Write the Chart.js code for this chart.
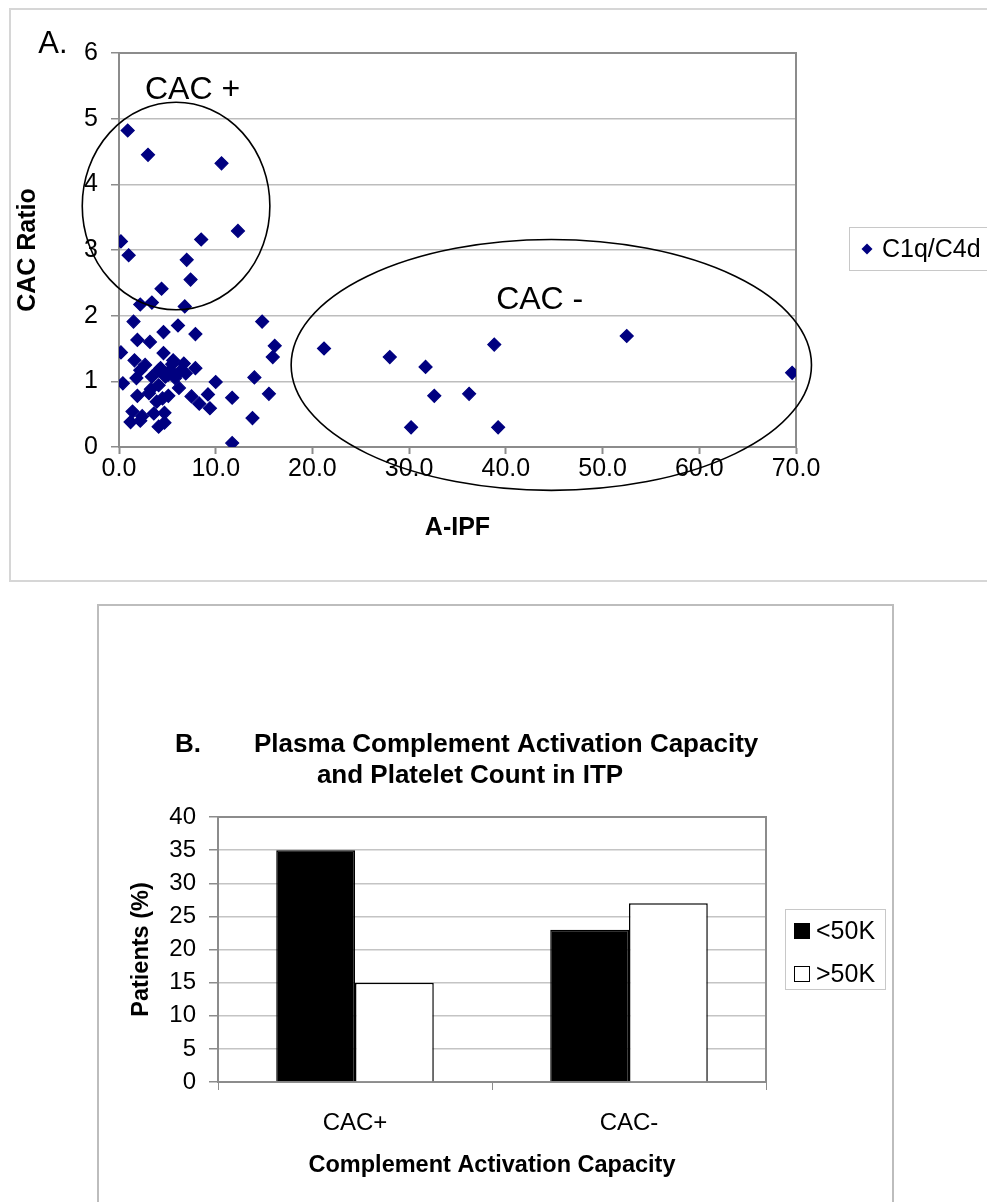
<!DOCTYPE html>
<html>
<head>
<meta charset="utf-8">
<title>CAC ratio and platelet count</title>
<script src="https://cdn.jsdelivr.net/npm/chart.js@4.4.1/dist/chart.umd.min.js"></script>
<style>
    body { margin: 0; background: #fff; }
    #page { position: relative; width: 987px; height: 1202px; overflow: hidden; }
    .frame { position: absolute; border: 2px solid #d6d6d6; }
    canvas { position: absolute; left: 0; }
</style>
</head>
<body>
<div id="page">
    <div class="frame" style="left:9px; top:8px; width:1000px; height:570px;"></div>
    <div class="frame" style="left:97px; top:604px; width:793px; height:620px; border-color:#bdbdbd;"></div>
    <canvas id="chartA" width="987" height="590" style="top:0"></canvas>
    <canvas id="chartB" width="987" height="602" style="top:600px"></canvas>
</div>
<script>
// Panel A: A-IPF vs CAC ratio (C1q/C4d)
const aIpf = [
    0.9, 3.0, 10.6, 12.3, 0.2, 8.5, 1.0, 7.0, 7.4, 4.4, 2.2, 3.4, 6.8,
    1.5, 14.8, 6.1, 4.6, 7.9, 1.9, 3.2, 16.1, 0.2, 15.9, 4.6, 1.6, 2.7,
    5.6, 6.7, 7.9, 4.1, 5.3, 6.3, 2.2, 1.8, 3.4, 4.8, 5.8, 0.4, 10.0,
    14.0, 4.1, 6.2, 3.3, 5.1, 4.3, 3.1, 1.9, 7.5, 5.1, 9.2, 11.7, 15.5,
    4.5, 3.9, 8.3, 9.4, 1.4, 2.4, 3.6, 4.7, 1.2, 2.2, 4.1, 4.7, 13.8,
    11.7, 6.9, 5.5,
    21.2, 28.0, 31.7, 38.8, 52.5, 69.6, 32.6, 36.2, 30.2, 39.2
];
const cacRatio = [
    4.82, 4.45, 4.32, 3.29, 3.13, 3.16, 2.92, 2.85, 2.55, 2.41, 2.17, 2.20, 2.14,
    1.91, 1.91, 1.85, 1.75, 1.72, 1.63, 1.60, 1.54, 1.44, 1.37, 1.43, 1.32, 1.25,
    1.32, 1.27, 1.20, 1.17, 1.17, 1.15, 1.17, 1.05, 1.07, 1.07, 1.05, 0.97, 0.99,
    1.06, 0.94, 0.90, 0.88, 1.10, 1.20, 0.82, 0.78, 0.77, 0.78, 0.80, 0.75, 0.81,
    0.74, 0.69, 0.66, 0.59, 0.54, 0.47, 0.51, 0.52, 0.38, 0.40, 0.31, 0.37, 0.44,
    0.06, 1.12, 1.26,
    1.50, 1.37, 1.22, 1.56, 1.69, 1.13, 0.78, 0.81, 0.30, 0.30
];

// Panel B: patients (%) by complement activation capacity
const cacGroups = ['CAC+', 'CAC-'];
const below50K = [35, 23];
const above50K = [15, 27];

// hand-drawn zones on panel A, in data units
const cacZones = [
    { label: 'CAC +', cx: 5.9, cy: 3.67, rx: 9.7, ry: 1.58, tx: 7.6, ty: 5.44 },
    { label: 'CAC -', cx: 44.7, cy: 1.25, rx: 26.9, ry: 1.91, tx: 43.5, ty: 2.24 }
];

const FONT = "'Liberation Sans', Arial, sans-serif";
Chart.defaults.font.family = FONT;
Chart.defaults.color = '#000';

const scatterPoints = aIpf.map((v, i) => ({ x: v, y: cacRatio[i] }));

const framePlugin = {
    id: 'plotFrame',
    beforeDatasetsDraw(chart) {
        const { ctx, chartArea: a } = chart;
        ctx.save();
        ctx.strokeStyle = '#8c8c8c';
        ctx.lineWidth = 2;
        ctx.beginPath();
        ctx.moveTo(a.left, a.top);
        ctx.lineTo(a.right, a.top);
        ctx.lineTo(a.right, a.bottom);
        ctx.stroke();
        ctx.restore();
    }
};

const zonePlugin = {
    id: 'cacZones',
    afterDatasetsDraw(chart) {
        const { ctx, scales: { x, y } } = chart;
        ctx.save();
        ctx.strokeStyle = '#000';
        ctx.lineWidth = 1.6;
        ctx.fillStyle = '#000';
        ctx.font = '32px ' + FONT;
        ctx.textAlign = 'center';
        ctx.textBaseline = 'middle';
        cacZones.forEach(z => {
            const cx = x.getPixelForValue(z.cx);
            const cy = y.getPixelForValue(z.cy);
            const rx = x.getPixelForValue(z.cx + z.rx) - cx;
            const ry = cy - y.getPixelForValue(z.cy + z.ry);
            ctx.beginPath();
            ctx.ellipse(cx, cy, rx, ry, 0, 0, Math.PI * 2);
            ctx.stroke();
            ctx.fillText(z.label, x.getPixelForValue(z.tx), y.getPixelForValue(z.ty));
        });
        // panel letter
        ctx.font = '31px ' + FONT;
        ctx.fillText('A.', 53, 44);

        // legend
        const ds = chart.data.datasets[0];
        ctx.strokeStyle = '#c8c8c8';
        ctx.lineWidth = 1;
        ctx.strokeRect(849.5, 227.5, 150, 43);
        ctx.fillStyle = ds.backgroundColor;
        ctx.beginPath();
        ctx.moveTo(867, 243.5);
        ctx.lineTo(872.5, 249);
        ctx.lineTo(867, 254.5);
        ctx.lineTo(861.5, 249);
        ctx.closePath();
        ctx.fill();
        ctx.fillStyle = '#000';
        ctx.font = '25px ' + FONT;
        ctx.textAlign = 'left';
        ctx.fillText(ds.label, 882, 250);
        ctx.restore();
    }
};

new Chart(document.getElementById('chartA'), {
    type: 'scatter',
    data: {
        datasets: [{
            label: 'C1q/C4d',
            data: scatterPoints,
            pointStyle: 'rectRot',
            pointRadius: 6.5,
            borderWidth: 1.2,
            backgroundColor: '#000080',
            borderColor: '#000080'
        }]
    },
    options: {
        responsive: false,
        animation: false,
        events: [],
        layout: { padding: { left: 0, top: 53, right: 191, bottom: 45 } },
        plugins: { legend: { display: false }, tooltip: { enabled: false } },
        scales: {
            x: {
                type: 'linear',
                min: 0,
                max: 70,
                afterFit: s => { s.height = 98; },
                ticks: { stepSize: 10, padding: 0, font: { size: 25 }, callback: v => v.toFixed(1) },
                grid: { drawOnChartArea: false, tickLength: 7, tickColor: '#8c8c8c', tickWidth: 2 },
                border: { color: '#8c8c8c', width: 2 },
                title: { display: true, text: 'A-IPF', font: { size: 25, weight: 'bold' }, padding: { top: 0, bottom: 2 } }
            },
            y: {
                min: 0,
                max: 6,
                afterFit: s => { s.width = 119; },
                ticks: { stepSize: 1, padding: 13, font: { size: 25 } },
                grid: { color: '#bdbdbd', lineWidth: 1.5, tickLength: 8, tickColor: '#8c8c8c' },
                border: { color: '#8c8c8c', width: 2 },
                title: { display: true, text: 'CAC Ratio', font: { size: 25, weight: 'bold' }, padding: { top: 13, bottom: 0 } }
            }
        }
    },
    plugins: [framePlugin, zonePlugin]
});

const barTextPlugin = {
    id: 'barText',
    afterDraw(chart) {
        const { ctx } = chart;
        ctx.save();
        ctx.fillStyle = '#000';
        ctx.textBaseline = 'middle';
        ctx.font = 'bold 26px ' + FONT;
        ctx.textAlign = 'left';
        ctx.fillText('B.', 175, 145);
        ctx.fillText('Plasma Complement Activation Capacity', 254, 145);
        ctx.textAlign = 'center';
        ctx.fillText('and Platelet Count in ITP', 470, 176);

        // legend
        ctx.strokeStyle = '#c8c8c8';
        ctx.lineWidth = 1;
        ctx.strokeRect(785.5, 309.5, 100, 80);
        ctx.font = '25px ' + FONT;
        ctx.textAlign = 'left';
        chart.data.datasets.forEach((ds, i) => {
            const cy = 331 + i * 43;
            ctx.fillStyle = ds.backgroundColor;
            ctx.fillRect(794, cy - 8, 16, 16);
            ctx.strokeStyle = '#000';
            ctx.lineWidth = 1;
            ctx.strokeRect(794.5, cy - 7.5, 15, 15);
            ctx.fillStyle = '#000';
            ctx.fillText(ds.label, 816, cy + 1);
        });
        ctx.restore();
    }
};

new Chart(document.getElementById('chartB'), {
    type: 'bar',
    data: {
        labels: cacGroups,
        datasets: [
            { label: '<50K', data: below50K, backgroundColor: '#000', borderColor: '#000', borderWidth: 1.5 },
            { label: '>50K', data: above50K, backgroundColor: '#fff', borderColor: '#000', borderWidth: 1.5 }
        ]
    },
    options: {
        responsive: false,
        animation: false,
        events: [],
        categoryPercentage: 0.575,
        barPercentage: 1.0,
        layout: { padding: { left: 100, top: 217, right: 221, bottom: 10 } },
        plugins: { legend: { display: false }, tooltip: { enabled: false } },
        scales: {
            x: {
                afterFit: s => { s.height = 110; },
                ticks: { padding: 19, font: { size: 24 } },
                grid: { offset: true, drawOnChartArea: false, tickLength: 8, tickColor: '#8c8c8c' },
                border: { color: '#8c8c8c', width: 2 },
                title: { display: true, text: 'Complement Activation Capacity', font: { size: 23.5, weight: 'bold' }, padding: { top: 0, bottom: 12 } }
            },
            y: {
                min: 0,
                max: 40,
                afterFit: s => { s.width = 118; },
                ticks: { stepSize: 5, padding: 13, font: { size: 24 } },
                grid: { color: '#c4c4c4', lineWidth: 1.5, tickLength: 9, tickColor: '#8c8c8c' },
                border: { color: '#8c8c8c', width: 2 },
                title: { display: true, text: 'Patients (%)', font: { size: 23.5, weight: 'bold' }, padding: { top: 27, bottom: 0 } }
            }
        }
    },
    plugins: [framePlugin, barTextPlugin]
});
</script>
</body>
</html>
